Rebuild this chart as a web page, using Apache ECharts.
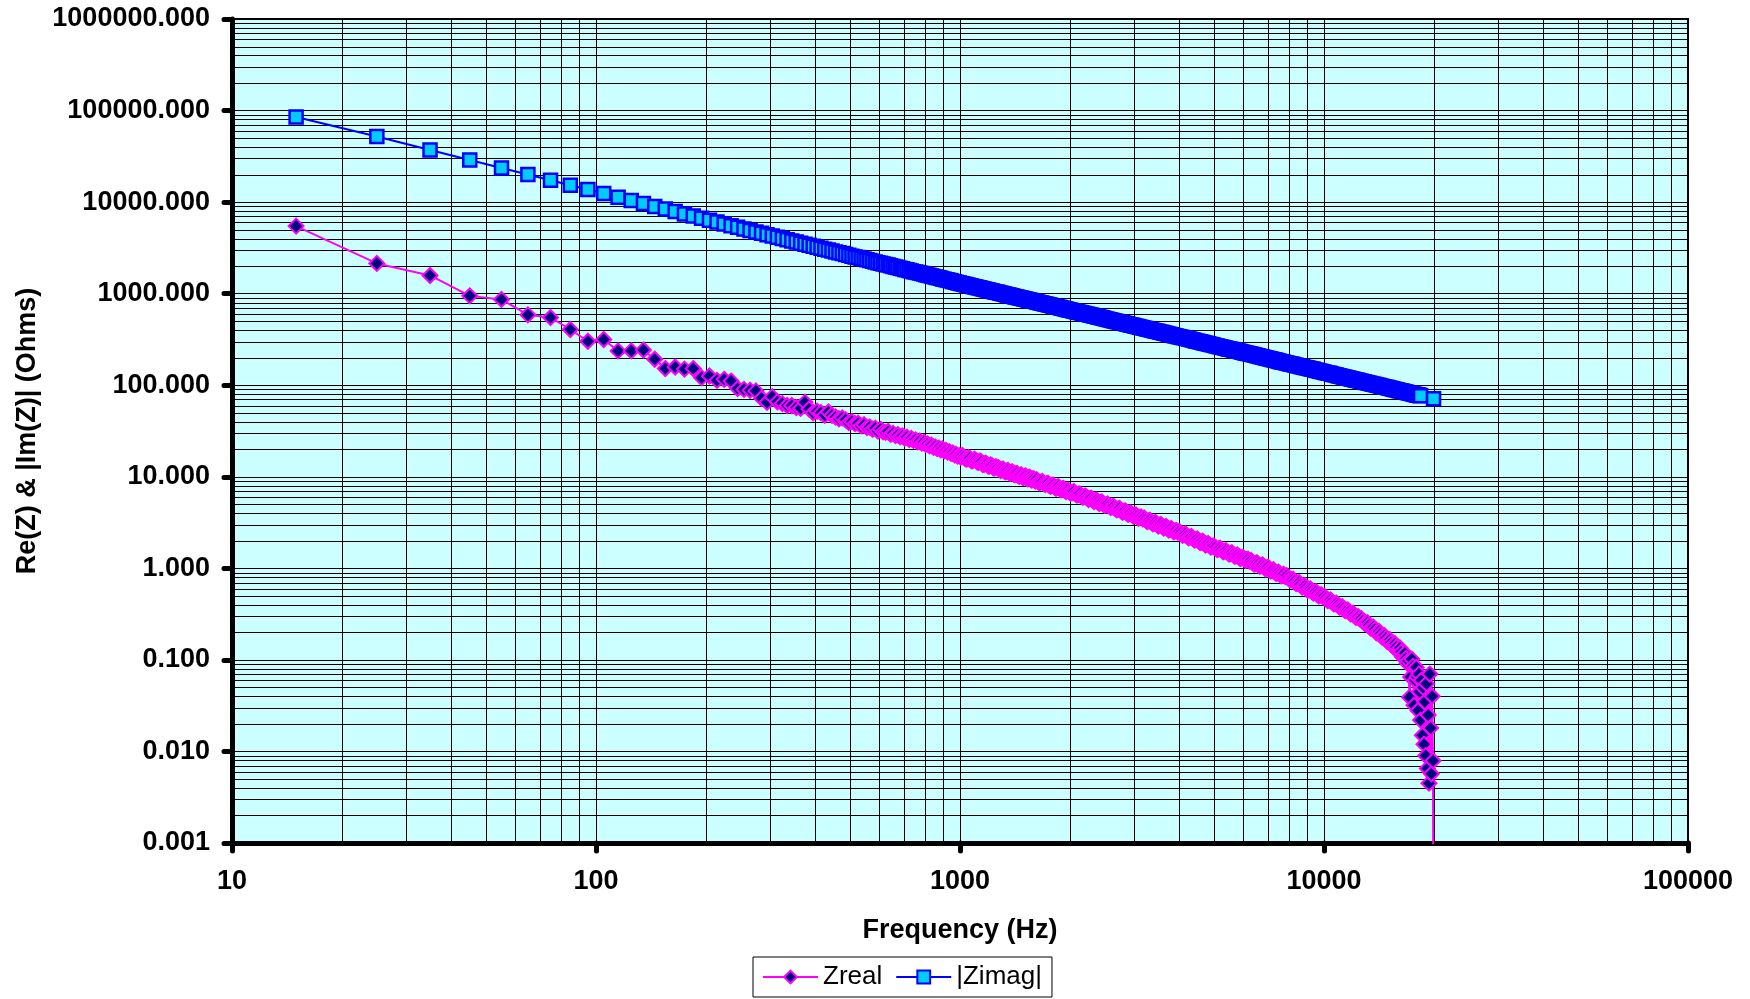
<!DOCTYPE html>
<html>
<head>
<meta charset="utf-8">
<script src="https://cdn.jsdelivr.net/npm/echarts@6/dist/echarts.min.js"></script>
<style>
html,body{margin:0;padding:0;background:#ffffff;}
#chart{width:1750px;height:999px;}
</style>
</head>
<body>
<div id="chart"></div>
<script>
// ---------------- DATA ----------------
const freq = [
15,25,35,45,55,65,75,85,95,105,
115,125,135,145,155,165,175,185,195,205,
215,225,235,245,255,265,275,285,295,305,
315,325,335,345,355,365,375,385,395,405,
415,425,435,445,455,465,475,485,495,505,
515,525,535,545,555,565,575,585,595,605,
615,625,635,645,655,665,675,685,695,705,
715,725,735,745,755,765,775,785,795,805,
815,825,835,845,855,865,875,885,895,905,
915,925,935,945,955,965,975,985,995,
1005,
1015,1025,1035,1045,1055,1065,1075,1085,1095,1105,1115,1125,1135,1145,1155,1165,1175,1185,1195,1205,1215,1225,1235,1245,1255,1265,
1275,1285,1295,1305,1315,1325,1335,1345,1355,1365,1375,1385,1395,1405,1415,1425,1435,1445,1455,1465,1475,1485,1495,1505,1515,1525,1535,1545,1555,1565,1575,1585,1595,1610,
1625,1640,1655,1670,1685,1700,1715,1730,1745,1760,1775,1790,1805,1820,1835,1850,1865,1880,1895,1910,1925,1940,1955,1970,1985,2000,2015,2035,
2055,2075,2095,2115,2135,2155,2175,2195,2215,2235,2255,2275,2295,2315,2335,2355,2375,2395,2415,2435,2455,2475,2495,2520,
2545,2570,2595,2620,2645,2670,2695,2720,2745,2770,2795,2820,2845,2870,2895,2920,2945,2970,2995,3020,3045,3070,3095,3120,3145,3175,
3205,3235,3265,3295,3325,3355,3385,3415,3445,3475,3505,3535,3565,3595,3625,3655,3685,3715,3745,3775,3805,3835,3865,3895,3925,3965,
4005,4045,4085,4125,4165,4205,4245,4285,4325,4365,4405,4445,4485,4525,4565,4605,4645,4685,4725,4765,4805,4845,4885,4935,
4985,5035,5085,5135,5185,5235,5285,5335,5385,5435,5485,5535,5585,5635,5685,5735,5785,5835,5885,5935,5985,6035,6085,6135,6185,6245,
6305,6365,6425,6485,6545,6605,6665,6725,6785,6845,6905,6965,7025,7085,7145,7205,7265,7325,7385,7445,7505,7565,7625,7685,7745,7825,
7905,7985,8065,8145,8225,8305,8385,8465,8545,8625,8705,8785,8865,8945,9025,9105,9185,9265,9345,9425,9505,9585,9665,9745,9825,9925,
10025,10125,10225,10325,10425,10525,10625,10725,10825,10925,11025,11125,11225,11325,11425,11525,11625,11725,11825,11925,12025,12125,12225,12325,12425,12550,
12675,12800,12925,13050,13175,13300,13425,13550,13675,13800,13925,14050,14175,14300,14425,14550,14675,14800,14925,15050,15175,15300,15425,15550,
15675,15800,15925,16050,16175,16300,16425,16550,16675,16800,16925,17050,17175,17300,17425,17550,17675,17800,17925,
18025,18125,18225,18325,18425,18525,18625,18725,18825,18925,
19025,19125,19225,19325,19425,19525,19625,19725,19825,19925,
19995
];

const zreal = [
5470,2140,1580,946,865,587,549,406,302,316,
237,237,242,192,152,158,150,152,121,126,
113,116,111,92,90,88,86.7,72,65,75,
66,63,60,60,57,56,65,55,50,52,
50,47,51,47,45,43,44,42,39,40,
38,38.5,36,37,34.5,35,33,34,31.5,33,
31,30.5,31.2,29,29.8,28.2,28.8,27.3,27.9,26.5,
27,25.6,26.2,25,25.3,24.1,24.5,23.3,23.8,22.6,
22.8,21.8,22.1,21,21.2,20.3,20.6,19.7,20.1,19.2,
19.4,18.6,18.8,18,18.2,17.4,17.6,16.8,17,
16.4,
17.1,16.4,15.7,15.6,16.1,15.9,14.9,15.0,15.6,15.2,14.5,14.4,14.9,14.5,13.6,13.7,14.1,13.8,13.1,13.1,13.5,13.2,12.5,12.5,12.9,12.6,
12.6,12.0,11.7,12.0,12.1,11.5,11.3,11.6,11.7,11.1,10.9,11.2,11.3,10.7,10.5,10.8,10.9,10.3,10.1,10.4,10.5,9.95,9.8,10.1,10.2,9.7,9.5,9.8,9.9,9.4,9.2,9.5,9.5,9.0,
9.3,8.8,8.6,8.8,8.9,8.4,8.2,8.4,8.5,8.0,7.85,8.1,8.1,7.7,7.5,7.7,7.8,7.4,7.2,7.4,7.45,7.1,6.9,7.1,7.15,6.8,6.65,6.7,
6.9,6.5,6.3,6.45,6.5,6.15,5.95,6.1,6.15,5.85,5.65,5.8,5.85,5.55,5.35,5.5,5.55,5.3,5.1,5.25,5.3,5.05,4.88,4.95,
5.05,4.8,4.6,4.7,4.75,4.5,4.35,4.45,4.5,4.25,4.1,4.2,4.25,4.05,3.9,3.98,4.03,3.85,3.7,3.78,3.83,3.65,3.52,3.6,3.64,3.48,
3.55,3.38,3.24,3.3,3.36,3.2,3.06,3.12,3.18,3.04,2.9,2.96,3.02,2.88,2.76,2.81,2.87,2.74,2.62,2.67,2.73,2.61,2.5,2.55,2.6,2.49,
2.53,2.41,2.3,2.33,2.37,2.25,2.15,2.19,2.23,2.12,2.03,2.06,2.1,2.0,1.91,1.94,1.98,1.89,1.8,1.84,1.87,1.79,1.71,1.74,
1.76,1.68,1.6,1.63,1.66,1.58,1.51,1.54,1.56,1.49,1.43,1.45,1.48,1.41,1.35,1.37,1.4,1.34,1.28,1.3,1.32,1.27,1.22,1.24,1.26,1.2,
1.22,1.16,1.11,1.13,1.15,1.1,1.05,1.07,1.09,1.04,0.99,1.01,1.03,0.978,0.935,0.948,0.965,0.918,0.88,0.892,0.91,0.866,0.83,0.841,0.86,0.815,
0.83,0.783,0.75,0.75,0.76,0.718,0.68,0.689,0.70,0.661,0.625,0.634,0.645,0.609,0.575,0.585,0.595,0.564,0.535,0.544,0.555,0.526,0.50,0.508,0.515,0.489,
0.495,0.468,0.445,0.447,0.452,0.43,0.41,0.412,0.416,0.396,0.377,0.379,0.382,0.363,0.345,0.348,0.352,0.334,0.318,0.32,0.323,0.307,0.291,0.294,0.296,0.28,
0.282,0.266,0.25,0.252,0.255,0.239,0.222,0.226,0.228,0.214,0.198,0.202,0.205,0.192,0.178,0.182,0.184,0.172,0.158,0.163,0.166,0.154,0.142,0.146,
0.15,0.138,0.125,0.13,0.135,0.122,0.108,0.113,0.118,0.104,0.092,0.098,0.039,0.065,0.102,0.085,0.032,0.06,0.083,
0.065,0.028,0.07,0.045,0.022,0.06,0.015,0.05,0.012,0.035,
0.009,0.055,0.0065,0.025,0.0045,0.07,0.018,0.0057,0.04,0.0079,
0.00001
];

const zimag = [
85000,52000,37100,28900,23600,20000,17300,15300,13700,12400,
11300,10400,9630,8970,8390,7880,7430,7030,6670,6340,
6050,5780,5530,5310,5100,4910,4730,4560,4410,4260,
4130,4000,3880,3770,3660,3560,3470,3380,3290,3210,
3130,3060,2990,2920,2860,2800,2740,2680,2630,2570,
2520,2480,2430,2390,2340,2300,2260,2220,2180,2150,
2110,2080,2050,2020,1980,1950,1930,1900,1870,1840,
1820,1790,1770,1740,1720,1700,1680,1660,1640,1610,
1600,1580,1560,1540,1520,1500,1490,1470,1450,1440,
1420,1410,1390,1380,1360,1350,1330,1320,1310,
1295,
1281,1269,1257,1245,1234,1223,1212,1201,1190,1180,1170,1160,1150,1140,1130,1121,1112,1103,1094,1085,1076,1067,1059,1051,1043,1035,
1027,1019,1012,1004,997,989,982,975,968,961,954,947,941,934,928,922,916,910,904,898,892,886,880,874,869,863,858,852,847,842,837,832,827,820,
812,805,797,790,784,777,770,764,758,751,745,739,733,727,721,715,710,704,699,694,689,683,678,673,668,663,659,652,
646,640,634,628,623,617,612,606,601,596,591,586,581,576,571,566,562,557,553,548,544,539,535,530,
525,520,515,510,506,501,497,492,488,484,480,475,471,467,463,459,456,452,448,444,441,437,434,431,428,424,
420,416,412,408,405,401,398,394,391,388,385,382,379,376,373,370,367,364,361,358,355,352,350,347,345,341,
338,335,332,329,326,323,320,317,314,311,308,305,303,300,298,295,293,290,288,285,283,281,279,276,
273,270,268,265,263,260,258,256,254,251,249,247,245,243,241,239,237,235,233,231,229,227,225,223,222,220,
218,216,214,212,210,208,206,204,203,201,199,197,196,194,193,191,190,188,187,185,184,182,181,179,178,176,
175,173,171,170,168,166,165,163,162,160,159,157,156,155,154,152,151,150,149,147,146,145,144,142,141,140,
139,137,136,135,134,132,131,130,129,127,126,125,124,123,122,121,120,119,118,117,116,115,114,113.5,112.5,111.3,
110.2,109.2,108.2,107.2,106.3,105.3,104.4,103.4,102.5,101.6,100.7,99.8,99.0,98.2,97.4,96.5,95.7,95.0,94.2,93.4,92.7,91.9,91.2,90.5,
89.8,89.1,88.4,87.7,87.1,86.4,85.8,85.2,84.6,83.9,83.3,82.7,82.2,81.6,81.0,80.4,79.9,79.3,78.8,
78.4,78.0,77.5,77.1,76.7,null,null,null,null,null,
null,null,null,null,null,null,null,null,null,null,
71
];

const seriesNames = ['Zreal', '|Zimag|'];
const xDecades = [10, 100, 1000, 10000, 100000];
const yDecades = [0.001, 0.01, 0.1, 1, 10, 100, 1000, 10000, 100000, 1000000];
const xTitle = 'Frequency (Hz)';
const yTitle = 'Re(Z) & |Im(Z)| (Ohms)';

// ---------------- CHART ----------------
if (freq.length !== zreal.length || freq.length !== zimag.length) {
  console.error('length mismatch', freq.length, zreal.length, zimag.length);
}
const FONT = '"Liberation Sans", Arial, Helvetica, sans-serif';

const xMinor = [];
for (let i = 0; i < xDecades.length - 1; i++) for (let m = 2; m <= 9; m++) xMinor.push(xDecades[i] * m);
const yMinor = [];
for (let i = 0; i < yDecades.length - 1; i++) for (let m = 2; m <= 9; m++) yMinor.push(yDecades[i] * m);

const realData = freq.map((f, i) => [f, zreal[i]]).filter(p => p[1] != null);
const imagData = freq.map((f, i) => [f, zimag[i]]).filter(p => p[1] != null);

function vLine(params, api) {
  const p = api.coord([api.value(0), api.value(1)]);
  const cs = params.coordSys;
  const x = Math.round(p[0]) + 0.5;
  return { type: 'line', silent: true,
    shape: { x1: x, y1: cs.y, x2: x, y2: cs.y + cs.height },
    style: { stroke: '#000', lineWidth: 1 } };
}
function hLine(params, api) {
  const p = api.coord([api.value(0), api.value(1)]);
  const cs = params.coordSys;
  const y = Math.round(p[1]) + 0.5;
  return { type: 'line', silent: true,
    shape: { x1: cs.x, y1: y, x2: cs.x + cs.width, y2: y },
    style: { stroke: '#000', lineWidth: 1 } };
}

const chart = echarts.init(document.getElementById('chart'), null, { renderer: 'canvas' });
chart.setOption({
  animation: false,
  backgroundColor: '#ffffff',
  textStyle: { fontFamily: FONT },
  grid: {
    left: 232, right: 62, top: 19, bottom: 156,
    show: true, backgroundColor: '#ccffff', borderColor: '#000', borderWidth: 2
  },
  legend: {
    data: seriesNames,
    left: 753, top: 957,
    orient: 'horizontal',
    padding: [7, 10, 7, 9],
    itemGap: 13, itemWidth: 55, itemHeight: 16,
    borderColor: '#000', borderWidth: 1, borderRadius: 0,
    backgroundColor: '#ffffff',
    textStyle: { fontFamily: FONT, fontSize: 26, color: '#000' }
  },
  xAxis: {
    type: 'log', logBase: 10,
    min: xDecades[0], max: xDecades[xDecades.length - 1],
    name: xTitle, nameLocation: 'middle', nameGap: 74,
    nameTextStyle: { fontFamily: FONT, fontSize: 27, fontWeight: 'bold', color: '#000' },
    axisLine: { show: true, onZero: false, lineStyle: { color: '#000', width: 5 } },
    axisTick: { show: true, inside: false, length: 8, lineStyle: { color: '#000', width: 5, cap: 'round' } },
    axisLabel: { show: true, margin: 25, fontFamily: FONT, fontSize: 27, fontWeight: 'bold', color: '#000',
      formatter: v => String(Math.round(v)) },
    splitLine: { show: true, lineStyle: { color: '#000', width: 1 } },
    minorTick: { show: false }, minorSplitLine: { show: false }
  },
  yAxis: {
    type: 'log', logBase: 10,
    min: yDecades[0], max: yDecades[yDecades.length - 1],
    splitNumber: 9,
    name: yTitle, nameLocation: 'middle', nameGap: 190,
    nameTextStyle: { fontFamily: FONT, fontSize: 27, fontWeight: 'bold', color: '#000' },
    axisLine: { show: true, onZero: false, lineStyle: { color: '#000', width: 5 } },
    axisTick: { show: true, inside: false, length: 8, lineStyle: { color: '#000', width: 5, cap: 'round' } },
    axisLabel: { show: true, margin: 22, fontFamily: FONT, fontSize: 27, fontWeight: 'bold', color: '#000',
      formatter: v => Number(v).toFixed(3) },
    splitLine: { show: true, lineStyle: { color: '#000', width: 1 } },
    minorTick: { show: false }, minorSplitLine: { show: false }
  },
  series: [
    {
      type: 'custom', name: 'xminor', z: 1, silent: true,
      renderItem: vLine,
      data: xMinor.map(v => [v, 1])
    },
    {
      type: 'custom', name: 'yminor', z: 1, silent: true,
      renderItem: hLine,
      data: yMinor.map(v => [xDecades[0], v])
    },
    {
      name: seriesNames[0], type: 'line', z: 3,
      data: realData,
      symbol: 'diamond', symbolSize: 15, showSymbol: true, showAllSymbol: true,
      itemStyle: { color: '#000080', borderColor: '#ff00ff', borderWidth: 2 },
      lineStyle: { color: '#ff00ff', width: 2 },
      clip: true, connectNulls: true,
      emphasis: { disabled: true }, silent: true
    },
    {
      name: seriesNames[1], type: 'line', z: 3,
      data: imagData,
      symbol: 'rect', symbolSize: 13, showSymbol: true, showAllSymbol: true,
      itemStyle: { color: '#00ccff', borderColor: '#0000ff', borderWidth: 2.5 },
      lineStyle: { color: '#0000ff', width: 2 },
      clip: true, connectNulls: true,
      emphasis: { disabled: true }, silent: true
    }
  ]
});
</script>
</body>
</html>
